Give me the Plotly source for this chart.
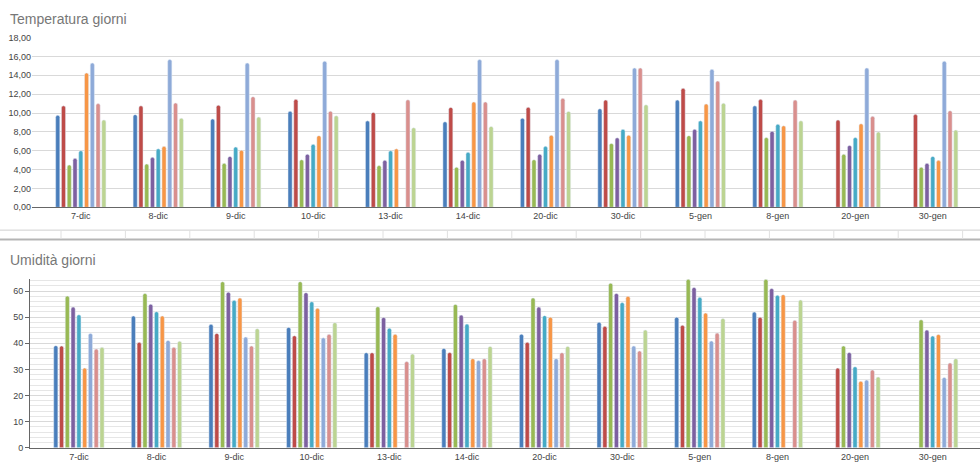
import plotly.graph_objects as go

giorni = ["7-dic", "8-dic", "9-dic", "10-dic", "13-dic", "14-dic",
          "20-dic", "30-dic", "5-gen", "8-gen", "20-gen", "30-gen"]

colori = ["#4a7ebb", "#be4b48", "#98b954", "#7d60a0", "#46aac5",
          "#f79646", "#8eaad8", "#d98f8d", "#bcd492"]

# temperature (9 serie per giorno)
temp_s1 = [9.76, 9.83, 9.38, 10.2, 9.17, 9.07, 9.45, 10.45, 11.38, 10.76, None, None]
temp_s2 = [10.76, 10.76, 10.83, 11.45, 10.07, 10.6, 10.62, 11.38, 12.63, 11.45, 9.27, 9.86]
temp_s3 = [4.5, 4.6, 4.67, 5.05, 4.43, 4.26, 5.05, 6.78, 7.6, 7.4, 5.64, 4.26]
temp_s4 = [5.2, 5.3, 5.4, 5.64, 5.0, 5.0, 5.64, 7.37, 8.27, 8.06, 6.57, 4.67]
temp_s5 = [6.0, 6.2, 6.4, 6.68, 6.0, 5.85, 6.47, 8.27, 9.17, 8.82, 7.4, 5.4]
temp_s6 = [14.25, 6.47, 6.05, 7.6, 6.2, 11.18, 7.65, 7.65, 10.97, 8.65, 8.86, 4.98]
temp_s7 = [15.3, 15.67, 15.3, 15.5, None, 15.67, 15.67, 14.78, 14.64, None, 14.78, 15.5]
temp_s8 = [11.0, 11.07, 11.73, 10.2, 11.4, 11.18, 11.56, 14.78, 13.39, 11.38, 9.65, 10.24]
temp_s9 = [9.27, 9.45, 9.58, 9.7, 8.44, 8.58, 10.17, 10.87, 11.04, 9.17, 7.99, 8.2]

# umidità
umid_s1 = [39.1, 50.5, 47.3, 46.1, 36.4, 38.0, 43.5, 48.1, 50.0, 52.0, None, None]
umid_s2 = [39.0, 40.4, 43.8, 42.9, 36.4, 36.5, 40.4, 46.5, 46.9, 50.0, 30.5, None]
umid_s3 = [58.1, 59.1, 63.6, 63.6, 54.0, 54.9, 57.4, 63.0, 64.5, 64.5, 39.0, 49.0]
umid_s4 = [53.9, 55.0, 59.6, 59.4, 49.9, 50.8, 53.9, 59.1, 61.4, 61.0, 36.5, 45.1]
umid_s5 = [50.9, 52.1, 56.5, 55.9, 45.8, 47.4, 50.6, 55.6, 57.6, 58.4, 31.0, 42.8]
umid_s6 = [30.5, 50.5, 57.4, 53.4, 43.5, 34.1, 50.0, 58.0, 51.6, 58.6, 25.5, 43.4]
umid_s7 = [43.8, 41.1, 42.4, 42.1, None, 33.4, 34.1, 39.0, 40.9, None, 25.9, 26.9]
umid_s8 = [37.8, 38.5, 39.0, 43.5, 33.0, 34.1, 36.4, 37.1, 43.9, 48.8, 29.8, 32.5]
umid_s9 = [38.5, 40.8, 45.6, 47.9, 35.9, 38.8, 38.8, 45.1, 49.5, 56.6, 27.1, 34.1]

temp = [temp_s1, temp_s2, temp_s3, temp_s4, temp_s5, temp_s6, temp_s7, temp_s8, temp_s9]
umid = [umid_s1, umid_s2, umid_s3, umid_s4, umid_s5, umid_s6, umid_s7, umid_s8, umid_s9]

fig = go.Figure()
for i in range(9):
    fig.add_trace(go.Bar(x=giorni, y=temp[i], marker_color=colori[i],
                         xaxis="x", yaxis="y", showlegend=False))
for i in range(9):
    fig.add_trace(go.Bar(x=giorni, y=umid[i], marker_color=colori[i],
                         xaxis="x2", yaxis="y2", showlegend=False))

H = 473.0
W = 980.0
font_tick = dict(family="Liberation Sans, Arial, sans-serif", size=9, color="#444")
xr = [-0.63, 11.61]

fig.update_layout(
    width=980, height=473,
    margin=dict(l=0, r=0, t=0, b=0),
    plot_bgcolor="white", paper_bgcolor="white",
    separators=",.",
    barmode="group", bargap=0.33, bargroupgap=0.28, barcornerradius=2,
    font=dict(family="Liberation Sans, Arial, sans-serif"),
    xaxis=dict(domain=[32 / W, 1], anchor="y", range=xr, showline=True,
               linecolor="#666", linewidth=1, tickfont=font_tick, ticks=""),
    yaxis=dict(domain=[1 - 206.7 / H, 1 - 33.3 / H], anchor="x", range=[0, 18],
               dtick=2, tickformat=".2f", gridcolor="#d9d9d9", showline=False,
               zeroline=False, tickfont=font_tick),
    xaxis2=dict(domain=[30 / W, 1], anchor="y2", range=xr, showline=True,
                linecolor="#666", linewidth=1, tickfont=font_tick, ticks=""),
    yaxis2=dict(domain=[1 - 452.3 / H, 1 - 280 / H], anchor="x2", range=[0, 64.6],
                dtick=10, gridcolor="#d9d9d9", showline=True, linecolor="#666",
                ticks="outside", ticklen=4, tickcolor="#666", zeroline=False,
                tickfont=font_tick,
                minor=dict(dtick=2, showgrid=True, gridcolor="#e6e6e6")),
    annotations=[
        dict(text="Temperatura giorni", x=8 / W, y=1 - 14 / H, xref="paper", yref="paper",
             xanchor="left", yanchor="middle", showarrow=False,
             font=dict(size=14, color="#777")),
        dict(text="Umidità giorni", x=8 / W, y=1 - 260 / H, xref="paper", yref="paper",
             xanchor="left", yanchor="middle", showarrow=False,
             font=dict(size=14, color="#777")),
    ],
)

# bordi delle celle del foglio tra i due grafici
shapes = [
    dict(type="line", xref="paper", yref="paper", x0=0, x1=1,
         y0=1 - 230 / H, y1=1 - 230 / H, line=dict(color="#cfcfcf", width=1)),
    dict(type="line", xref="paper", yref="paper", x0=0, x1=1,
         y0=1 - 239.5 / H, y1=1 - 239.5 / H, line=dict(color="#b5b5b5", width=2)),
]
xc = 61.0
while xc < W:
    shapes.append(dict(type="line", xref="paper", yref="paper", x0=xc / W, x1=xc / W,
                       y0=1 - 239 / H, y1=1 - 230 / H, line=dict(color="#e0e0e0", width=1)))
    xc += 64.4
fig.update_layout(shapes=shapes)

# niente margine del body, così la figura parte dall'angolo in alto a sinistra
fig.write_html("out.html", config={"displayModeBar": False},
               post_script="document.body.style.margin='0';")
